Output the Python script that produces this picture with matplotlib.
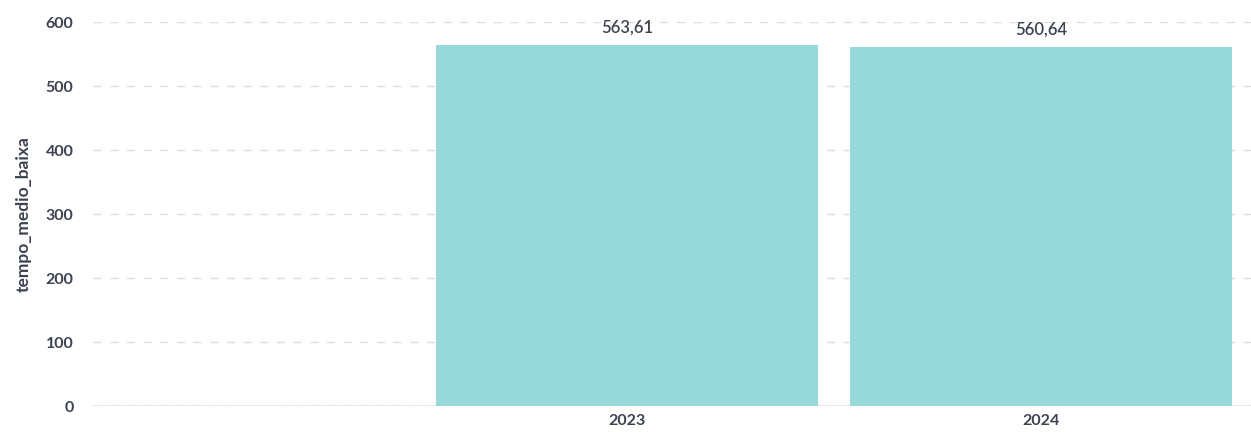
import matplotlib
matplotlib.use('Agg')
import matplotlib.pyplot as plt
import numpy as np

# Dados
anos = ['', '2023', '2024']
tempo_medio_baixa = [np.nan, 563.61, 560.64]
yticks = [0, 100, 200, 300, 400, 500, 600]

cor_barra = '#97d9d8'
cor_texto = '#3d4250'

plt.rcParams['font.family'] = ['Lato', 'DejaVu Sans']

fig = plt.figure(figsize=(12.51, 4.32), dpi=100)
ax = fig.add_axes([93 / 1251, 26 / 432, 1158 / 1251, 384 / 432])

x = np.arange(len(anos))
barras = ax.bar(x, tempo_medio_baixa, width=0.924, color=cor_barra, zorder=2)

# Rótulos de valor com vírgula decimal
for xi, v in zip(x, tempo_medio_baixa):
    if np.isnan(v):
        continue
    ax.annotate(f'{v:.2f}'.replace('.', ','), (xi, v), xytext=(0, 7),
                textcoords='offset points', ha='center', va='bottom',
                fontsize=12, color=cor_texto, fontweight='semibold')

ax.set_xlim(-0.292, 2.508)
ax.set_ylim(0, 600)
ax.set_xticks(x)
ax.set_xticklabels(anos)
ax.set_yticks(yticks)

ax.grid(axis='y', color='#dedede', linestyle=(0, (6, 6)), linewidth=1, zorder=0)
ax.axhline(0, color='#e6e6e6', linewidth=1.2, zorder=1)
for s in ax.spines.values():
    s.set_visible(False)

ax.tick_params(axis='both', length=0, labelsize=11.5, labelcolor=cor_texto)
ax.tick_params(axis='y', pad=14)
ax.tick_params(axis='x', pad=6)
for lbl in ax.get_xticklabels() + ax.get_yticklabels():
    lbl.set_fontweight('bold')

ax.set_ylabel('tempo_medio_baixa', fontsize=12.5, color=cor_texto,
              fontweight='bold', labelpad=10)

fig.savefig('out.png', dpi=100, facecolor='white')
plt.close()
